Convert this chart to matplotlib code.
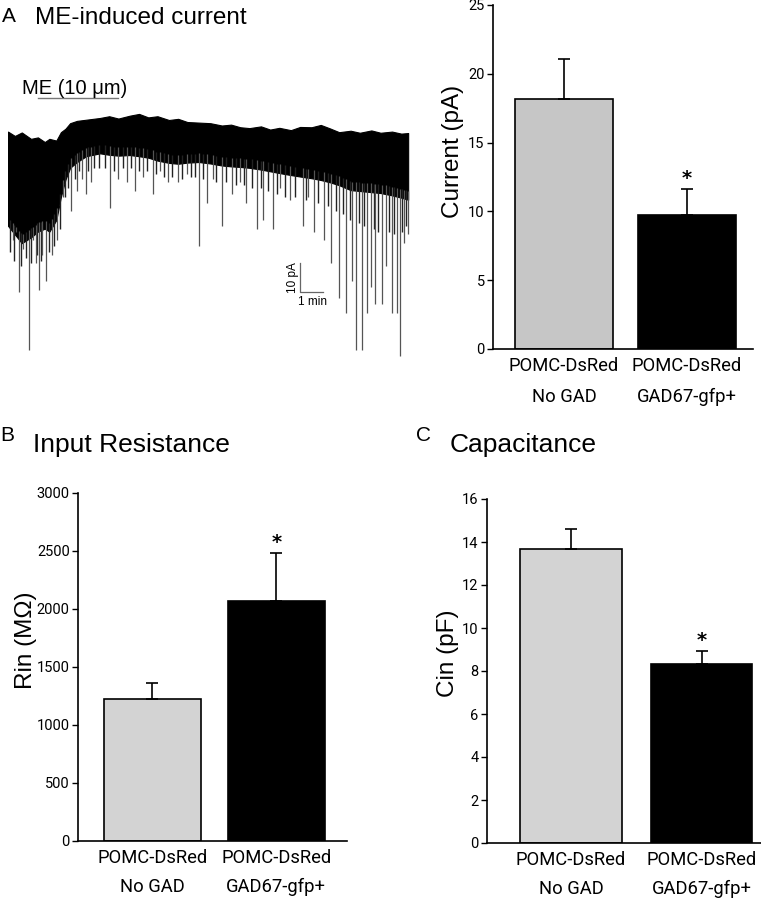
import matplotlib
matplotlib.use('Agg')
import matplotlib.pyplot as plt
import numpy as np

groups = ['POMC-DsRed\nNo GAD', 'POMC-DsRed\nGAD67-gfp+']

current_mean = [18.2, 9.75]
current_sem = [2.85, 1.9]
rin_mean = [1225, 2070]
rin_sem = [140, 415]
cin_mean = [13.67, 8.33]
cin_sem = [0.93, 0.6]

# trace envelope (time in min, current in pA)
env_t = [0, 0.3, 0.6, 1.0, 1.3, 1.6, 1.8, 2.1, 2.3, 2.5, 2.7, 3.0, 3.4, 4.0, 4.4, 4.8, 5.3, 5.7, 6.1, 6.5,
         7.0, 7.4, 7.8, 8.3, 8.8, 9.3, 9.7, 10.1, 10.5, 11.0, 11.4, 11.8, 12.3, 12.7, 13.2, 13.6, 14.0,
         14.4, 14.9, 15.3, 15.8, 16.2, 16.7, 17.1, 17.4]
env_top = [0.5, -1.0, 0.2, -2.0, -1.5, -3.1, -2.0, -2.6, 0.3, 1.5, 3.4, 4.2, 4.6, 5.2, 5.8, 5.0, 6.0, 6.6,
           5.4, 5.8, 4.5, 4.9, 3.8, 3.6, 3.4, 2.6, 2.9, 2.0, 1.7, 2.3, 1.2, 1.8, 1.0, 2.1, 2.0, 2.8, 1.6,
           0.3, 0.8, 0.1, 0.9, 0.1, 0.5, -0.2, 0]
env_bot = [-32, -35, -38, -36, -34, -33, -34, -30, -22, -16, -12, -10, -8, -7, -7.5, -7.8, -7.6, -8, -8.5,
           -9.5, -10.3, -10.6, -10.2, -10, -10.5, -11.2, -11.5, -11.7, -12, -12.6, -13.2, -13.8, -14.5,
           -15, -15.6, -16.2, -17, -18, -19.7, -20, -20.4, -20.7, -21.5, -22.3, -23]

# downward events (time in min, peak in pA)
spike_t = [0.2, 0.35, 0.48, 0.65, 0.91, 1.09, 1.2, 1.35, 1.5, 1.65, 1.91, 2.13, 2.39, 2.74, 3.0, 3.22, 3.39,
           3.6, 4.43, 4.8, 5.17, 5.52, 5.87, 6.3, 6.6, 6.96, 7.39, 7.78, 8.3, 8.65, 8.9, 9.3, 9.74, 10.1,
           10.35, 10.83, 11.1, 11.52, 11.83, 12.26, 12.83, 13.04, 13.3, 13.74, 14.04, 14.39, 14.7, 14.96,
           15.13, 15.39, 15.6, 15.78, 15.96, 16.26, 16.43, 16.7, 16.9, 17.04, 17.22, 17.39]
spike_i = [-37, -34, -55, -40, -75, -37, -45, -54, -42, -51, -42, -37, -22, -27, -20, -16, -21,
           -17, -26, -16, -17, -20, -15, -21, -13, -17, -17, -14, -39, -24, -16, -32, -21, -17,
           -24, -33, -30, -33, -19, -23, -32, -22, -34, -37, -45, -57, -62, -51,
           -75, -75, -62, -53, -59, -59, -46, -62, -62, -77, -38, -35]

# smaller events that roughen the lower edge of the noise band
small_t = [0.1, 0.28, 0.56, 0.78, 1.02, 1.28, 1.42, 1.78, 2.02, 2.25, 2.5, 2.62, 2.9, 3.1, 3.5, 3.75, 3.95,
           4.2, 4.6, 5.0, 5.35, 5.7, 6.05, 6.45, 6.8, 7.15, 7.55, 7.95, 8.15, 8.5, 9.05, 9.5, 9.9, 10.25,
           10.6, 11.0, 11.3, 11.7, 12.05, 12.5, 12.95, 13.5, 13.9, 14.25, 14.55, 14.85, 15.25, 15.5,
           15.9, 16.1, 16.55, 16.8, 17.15, 17.3]
small_i = [-41, -44, -46, -43, -45, -42, -44, -41, -39, -33, -22, -19, -16, -13, -13, -12, -12,
           -12, -13, -12, -12, -13, -13, -14, -15, -15, -16, -15, -15, -16, -17, -17, -18, -18,
           -19, -19, -20, -21, -22, -22, -23, -24, -25, -27, -28, -30, -31, -32,
           -33, -34, -34, -35, -34, -32]

me_on, me_off = 1.3, 4.8

fig = plt.figure(figsize=(7.61, 8.99), dpi=100)

# ---- trace
axt = fig.add_axes([8/761, 1-360/899, 402/761, 300/899])
axt.fill_between(env_t, env_bot, env_top, color='black', lw=0.8, edgecolor='black')
axt.vlines(small_t, np.interp(small_t, env_t, env_bot) + 3, small_i, color='#222222', lw=1.0)
axt.vlines(spike_t, np.interp(spike_t, env_t, env_bot) + 3, spike_i, color='#555555', lw=0.9)
axt.plot([me_on, me_off], [12.1, 12.1], color='#777777', lw=1)
axt.text(2.91, 15.5, 'ME (10 \u03bcm)', ha='center', va='center', fontsize=14.5,
         family='Liberation Sans')
# scale bar 10 pA / 1 min
axt.plot([12.7, 12.7, 13.7], [-44.8, -54.8, -54.8], color='#666666', lw=0.9)
axt.text(12.38, -49.8, '10 pA', rotation=90, ha='center', va='center', fontsize=8.5, family='Liberation Sans')
axt.text(13.26, -58.3, '1 min', ha='center', va='center', fontsize=8.5, family='Liberation Sans')
axt.set_xlim(0, 17.48)
axt.set_ylim(-78.3, 25.2)
axt.axis('off')

fig.text(2/761, 1-16/899, 'A', fontsize=15, family='Liberation Sans', va='center')
fig.text(35/761, 1-18/899, 'ME-induced current', fontsize=17.5, family='Liberation Sans', va='center')
fig.text(0/761, 1-436/899, 'B', fontsize=15, family='Liberation Sans', va='center')
fig.text(33/761, 1-445/899, 'Input Resistance', fontsize=19, family='Liberation Sans', va='center')
fig.text(416/761, 1-436/899, 'C', fontsize=15, family='Liberation Sans', va='center')
fig.text(450/761, 1-445/899, 'Capacitance', fontsize=19, family='Liberation Sans', va='center')


def bar_panel(rect, means, sems, ylim, yticks, ylabel, xlim, width, gray, lab_xy, star_off, lsp):
    ax = fig.add_axes(rect)
    x = np.arange(len(means))
    ax.bar(x, means, width=width, color=[gray, 'black'], edgecolor='black', linewidth=1.2, zorder=2)
    ax.errorbar(x, means, yerr=[np.zeros(len(means)), sems], fmt='none', ecolor='black',
                elinewidth=1.2, capsize=4, capthick=1.2, zorder=3)
    ax.text(1, means[1] + sems[1] + star_off, '*', ha='center', va='center', fontsize=14,
            fontweight='bold', family='DejaVu Sans')
    ax.set_xlim(*xlim)
    ax.set_ylim(*ylim)
    ax.set_yticks(yticks)
    ax.set_xticks(x)
    ax.set_xticklabels(groups, family='Roboto', fontsize=13.2, linespacing=lsp)
    ax.tick_params(axis='x', length=0, pad=6)
    ax.tick_params(axis='y', length=4, width=1, pad=2)
    for lab in ax.get_yticklabels():
        lab.set_family('Roboto')
        lab.set_fontsize(10.5)
    for s in ['top', 'right']:
        ax.spines[s].set_visible(False)
    for s in ['left', 'bottom']:
        ax.spines[s].set_linewidth(1.2)
    ax.set_ylabel(ylabel, fontsize=17.5, family='Liberation Sans')
    ax.yaxis.set_label_coords(*lab_xy)
    return ax


bar_panel([493/761, 1-349/899, 260/761, 344/899], current_mean, current_sem, (0, 25),
          [0, 5, 10, 15, 20, 25], 'Current (pA)', (-0.577, 1.537), 0.80, '#c6c6c6',
          (-0.112, 0.573), 0.75, 1.9)
bar_panel([78/761, 1-841/899, 269/761, 348/899], rin_mean, rin_sem, (0, 3000),
          [0, 500, 1000, 1500, 2000, 2500, 3000], 'Rin (M\u03a9)', (-0.60, 1.57), 0.78, '#d3d3d3',
          (-0.152, 0.578), 90, 1.75)
bar_panel([487/761, 1-843/899, 274/761, 344/899], cin_mean, cin_sem, (0, 16),
          [0, 2, 4, 6, 8, 10, 12, 14, 16], 'Cin (pF)', (-0.644, 1.456), 0.78, '#d3d3d3',
          (-0.102, 0.552), 0.5, 1.75)

fig.savefig('out.png', dpi=100)
